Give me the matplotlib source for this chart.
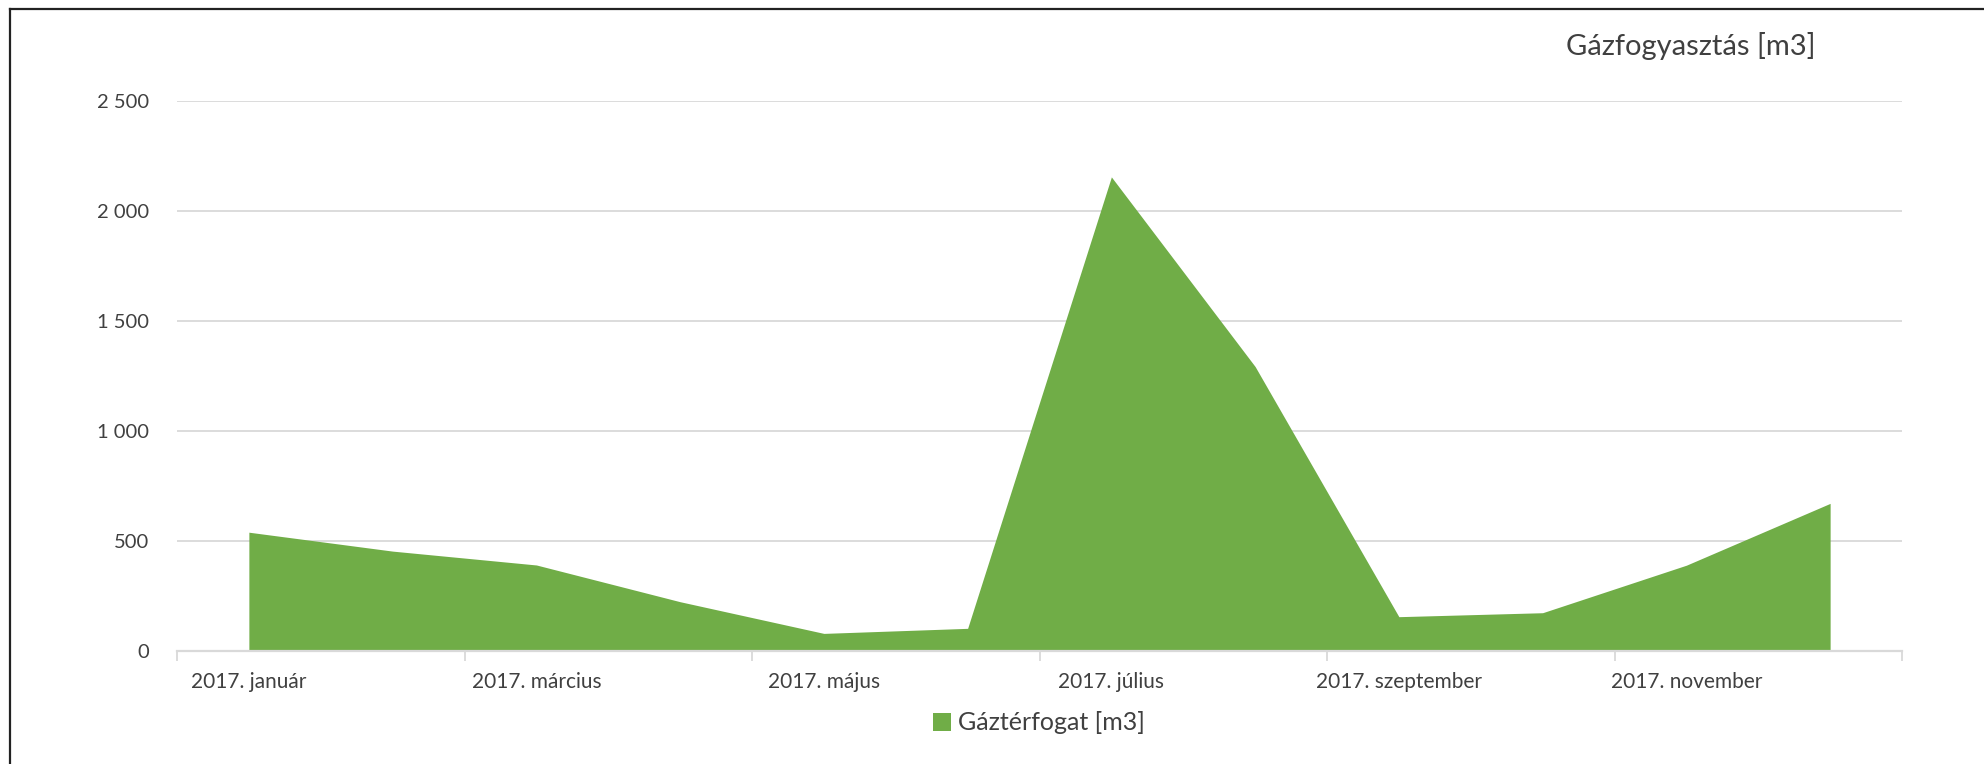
import numpy as np
import matplotlib.pyplot as plt
from matplotlib.lines import Line2D
from matplotlib.patches import Patch
from matplotlib.ticker import FuncFormatter, FixedLocator

plt.rcParams['font.family'] = ['Lato', 'DejaVu Sans']

months = ["2017. január", "2017. február", "2017. március", "2017. április",
          "2017. május", "2017. június", "2017. július", "2017. augusztus",
          "2017. szeptember", "2017. október", "2017. november", "2017. december"]
gas_volume = [540, 454, 391, 224, 80, 103, 2155, 1293, 156, 174, 390, 671]
title = "Gázfogyasztás [m3]"
series_name = "Gáztérfogat [m3]"

green = "#70AD47"
text_col = "#404040"
grid_col = "#d9d9d9"

W, H = 1984, 764
fig = plt.figure(figsize=(W / 100, H / 100), dpi=100)
ax = fig.add_axes([177 / W, 1 - 651 / H, (1902 - 177) / W, (651 - 101) / H])

x = np.arange(len(months))
ax.fill_between(x, gas_volume, 0, color=green, linewidth=0, zorder=2)

ax.set_xlim(-0.5, len(months) - 0.5)
ax.set_ylim(0, 2500)

# y axis
ax.set_yticks(np.arange(0, 2501, 500))
ax.yaxis.set_major_formatter(FuncFormatter(lambda v, p: f"{int(v):,}".replace(",", " ")))
ax.tick_params(axis='y', length=0, pad=20, labelsize=14.5, labelcolor=text_col)
ax.grid(axis='y', color=grid_col, linewidth=1.3, zorder=0)
ax.set_axisbelow(True)

# x axis: tick marks on category boundaries, labels every other month
ax.xaxis.set_major_locator(FixedLocator(np.arange(-0.5, len(months), 2)))
ax.xaxis.set_major_formatter(FuncFormatter(lambda v, p: ""))
ax.xaxis.set_minor_locator(FixedLocator(x[::2]))
ax.set_xticklabels([months[i] for i in x[::2]], minor=True)
ax.tick_params(axis='x', which='major', length=7, width=1.3, color=grid_col)
ax.tick_params(axis='x', which='minor', length=0, pad=15, labelsize=15, labelcolor=text_col)

for s in ['top', 'right', 'left']:
    ax.spines[s].set_visible(False)
ax.spines['bottom'].set_color(grid_col)
ax.spines['bottom'].set_linewidth(1.6)

fig.text(1691 / W, 1 - 46 / H, title, ha='center', va='center', fontsize=21, color=text_col)

handle = Patch(facecolor=green, edgecolor='none')
fig.legend([handle], [series_name], loc='center', bbox_to_anchor=(1039 / W, 1 - 723 / H),
           frameon=False, fontsize=18, labelcolor=text_col, handlelength=0.7, handleheight=0.7,
           handletextpad=0.3)

# chart border (left and top edges visible)
fig.add_artist(Line2D([10 / W, 10 / W], [0, 1 - 9 / H], color='#222222', linewidth=1.6))
fig.add_artist(Line2D([10 / W, 1], [1 - 9 / H, 1 - 9 / H], color='#222222', linewidth=1.6))

fig.savefig("out.png", dpi=100)
